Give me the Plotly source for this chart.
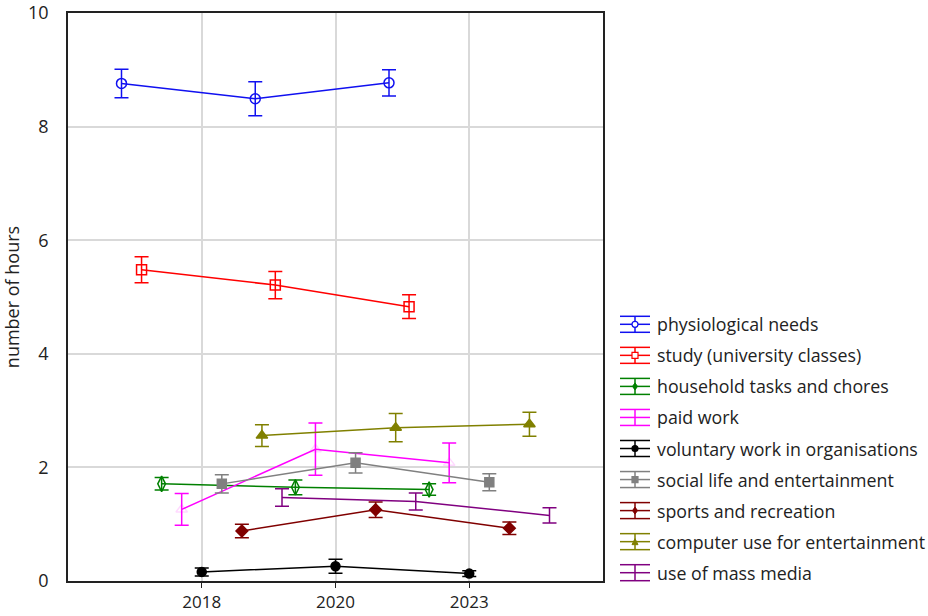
import plotly.graph_objects as go

# ---- data: mean daily hours per activity, with error half-widths ----
years = ["2018", "2020", "2023"]

activities = [
    "physiological needs",
    "study (university classes)",
    "household tasks and chores",
    "paid work",
    "voluntary work in organisations",
    "social life and entertainment",
    "sports and recreation",
    "computer use for entertainment",
    "use of mass media",
]

physiological = [8.76, 8.49, 8.77]
physiological_err = [0.25, 0.30, 0.23]
study = [5.48, 5.21, 4.83]
study_err = [0.23, 0.24, 0.21]
household = [1.71, 1.65, 1.61]
household_err = [0.11, 0.13, 0.10]
paid_work = [1.26, 2.32, 2.08]
paid_work_err = [0.28, 0.46, 0.35]
voluntary = [0.16, 0.26, 0.13]
voluntary_err = [0.07, 0.125, 0.05]
social = [1.71, 2.08, 1.74]
social_err = [0.16, 0.18, 0.15]
sports = [0.88, 1.255, 0.93]
sports_err = [0.12, 0.135, 0.11]
computer = [2.56, 2.70, 2.76]
computer_err = [0.19, 0.25, 0.21]
mass_media = [1.47, 1.40, 1.155]
mass_media_err = [0.155, 0.15, 0.135]

values = [physiological, study, household, paid_work, voluntary,
          social, sports, computer, mass_media]
errors = [physiological_err, study_err, household_err, paid_work_err,
          voluntary_err, social_err, sports_err, computer_err, mass_media_err]

# ---- styling ----
colors = ["#1010f0", "#ff0000", "#008000", "#ff00ff", "#000000",
          "#808080", "#800000", "#808000", "#800080"]
symbols = ["circle-open", "square-open", "diamond-tall-open", "triangle-up-open",
           "circle", "square", "diamond", "triangle-up", None]
sizes = [10, 10, 11, 10, 9, 9, 9, 10, 0]
marker_colors = list(colors)
marker_colors[3] = "rgba(255,0,255,0.15)"

FONT = "Open Sans"
FS = 18
TXT = "#222"
W_FIG, H_FIG = 928, 616
L, R, T, B = 68, 325, 13, 35
PW = W_FIG - L - R
PH = H_FIG - T - B

fig = go.Figure()

n = len(activities)
step = 0.15
for i in range(n):
    off = (i - (n - 1) / 2) * step
    xs = [k + 1 + off for k in range(len(years))]
    marker = dict(color=marker_colors[i], size=sizes[i],
                  line=dict(color=marker_colors[i], width=1.5))
    if symbols[i] is not None:
        marker["symbol"] = symbols[i]
    fig.add_trace(go.Scatter(
        x=xs, y=values[i],
        mode="lines+markers" if symbols[i] else "lines",
        name=activities[i],
        line=dict(color=colors[i], width=1.5),
        marker=marker,
        error_y=dict(type="data", array=errors[i], visible=True,
                     color=colors[i], thickness=1.5, width=7),
        showlegend=False,
    ))


# ---- legend, drawn beside the plot area ----
def px_x(px):
    return (px - L) / PW


def px_y(py):
    return (H_FIG - B - py) / PH


shapes = []
annotations = []
legend_top = 324.3
legend_gap = 31.05
gx0, gx1, gxc = 620, 650, 635
cap = 8
for i, name in enumerate(activities):
    cy = legend_top + legend_gap * i
    c = colors[i]
    ln = dict(color=c, width=1.5)
    for dy in (-cap, 0, cap):
        shapes.append(dict(type="line", xref="paper", yref="paper",
                           x0=px_x(gx0), x1=px_x(gx1),
                           y0=px_y(cy + dy), y1=px_y(cy + dy), line=ln))
    shapes.append(dict(type="line", xref="paper", yref="paper",
                       x0=px_x(gxc), x1=px_x(gxc),
                       y0=px_y(cy - cap), y1=px_y(cy + cap), line=ln))
    sym = symbols[i]
    r = 3
    if sym is None or i == 3:
        continue
    fill = "white" if sym.endswith("open") else c
    if sym.startswith("circle"):
        shapes.append(dict(type="circle", xref="paper", yref="paper",
                           x0=px_x(gxc - r), x1=px_x(gxc + r),
                           y0=px_y(cy + r), y1=px_y(cy - r),
                           fillcolor=fill, line=dict(color=c, width=1.2)))
    elif sym.startswith("square"):
        shapes.append(dict(type="rect", xref="paper", yref="paper",
                           x0=px_x(gxc - r), x1=px_x(gxc + r),
                           y0=px_y(cy + r), y1=px_y(cy - r),
                           fillcolor=fill, line=dict(color=c, width=1.2)))
    elif sym.startswith("diamond"):
        pts = [(gxc, cy - r - 0.5), (gxc + r - 0.5, cy), (gxc, cy + r + 0.5), (gxc - r + 0.5, cy)]
        path = "M " + " L ".join(f"{px_x(a)},{px_y(b)}" for a, b in pts) + " Z"
        shapes.append(dict(type="path", xref="paper", yref="paper", path=path,
                           fillcolor=c, line=dict(color=c, width=1)))
    elif sym.startswith("triangle"):
        pts = [(gxc, cy - r), (gxc + r, cy + r), (gxc - r, cy + r)]
        path = "M " + " L ".join(f"{px_x(a)},{px_y(b)}" for a, b in pts) + " Z"
        shapes.append(dict(type="path", xref="paper", yref="paper", path=path,
                           fillcolor=c, line=dict(color=c, width=1)))

for i, name in enumerate(activities):
    cy = legend_top + legend_gap * i
    annotations.append(dict(xref="paper", yref="paper", x=px_x(655), y=px_y(cy),
                            text=name, showarrow=False, xanchor="left",
                            yanchor="middle",
                            font=dict(family=FONT, size=17.8, color=TXT)))

fig.update_layout(
    width=W_FIG, height=H_FIG,
    margin=dict(l=L, r=R, t=T, b=B, pad=0, autoexpand=False),
    paper_bgcolor="white", plot_bgcolor="white",
    font=dict(family=FONT, size=FS, color=TXT),
    shapes=shapes,
    annotations=annotations,
    showlegend=False,
)
fig.update_xaxes(
    range=[0, 4], tickvals=[1, 2, 3], ticktext=years,
    showgrid=True, gridcolor="#d9d9d9", gridwidth=1.5,
    showline=True, linecolor="#222", linewidth=1.5, mirror=True,
    ticks="outside", ticklen=5, tickcolor="#222", zeroline=False,
    tickfont=dict(family=FONT, size=17), automargin=False,
    ticklabelstandoff=0,
)
fig.update_yaxes(
    range=[0, 10], tickvals=[0, 2, 4, 6, 8, 10],
    showgrid=True, gridcolor="#d9d9d9", gridwidth=1.5,
    showline=True, linecolor="#222", linewidth=1.5, mirror=True,
    ticks="", zeroline=False, ticklabelstandoff=14,
    title=dict(text="number of hours", font=dict(family=FONT, size=FS), standoff=8),
    tickfont=dict(family=FONT, size=FS), automargin=False,
)

fig.write_html("out.html")
